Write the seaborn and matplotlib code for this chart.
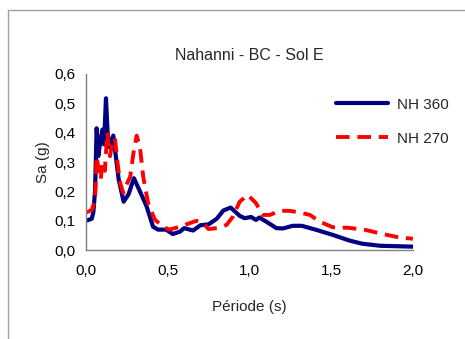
import numpy as np
import pandas as pd
import matplotlib
matplotlib.use("Agg")
import matplotlib.pyplot as plt
import seaborn as sns
from matplotlib.ticker import MultipleLocator, FuncFormatter

# data
t_360 = [0.0, 0.035, 0.045, 0.055, 0.065, 0.075, 0.085, 0.10, 0.11, 0.122, 0.132, 0.145,
         0.167, 0.18, 0.20, 0.23, 0.26, 0.293, 0.33, 0.37, 0.41, 0.44, 0.49, 0.53,
         0.575, 0.60, 0.655, 0.70, 0.75, 0.80, 0.84, 0.885, 0.94, 0.97, 1.01, 1.04,
         1.06, 1.10, 1.165, 1.205, 1.265, 1.32, 1.41, 1.51, 1.61, 1.69, 1.80, 2.0]
sa_360 = [0.10, 0.107, 0.13, 0.20, 0.415, 0.32, 0.36, 0.41, 0.36, 0.517, 0.40, 0.35,
          0.39, 0.33, 0.24, 0.165, 0.19, 0.245, 0.20, 0.15, 0.08, 0.07, 0.07, 0.055,
          0.063, 0.075, 0.067, 0.085, 0.088, 0.107, 0.135, 0.145, 0.117, 0.109, 0.113, 0.103,
          0.111, 0.098, 0.075, 0.074, 0.083, 0.083, 0.069, 0.052, 0.033, 0.022, 0.015, 0.012]

t_270 = [0.0, 0.035, 0.055, 0.065, 0.08, 0.09, 0.10, 0.115, 0.13, 0.147, 0.163, 0.177,
         0.19, 0.208, 0.228, 0.245, 0.27, 0.29, 0.31, 0.33, 0.35, 0.38, 0.42, 0.47,
         0.51, 0.575, 0.615, 0.675, 0.715, 0.75, 0.80, 0.86, 0.90, 0.94, 0.99, 1.04,
         1.08, 1.125, 1.185, 1.245, 1.31, 1.37, 1.43, 1.51, 1.61, 1.71, 1.815, 1.92, 2.0]
sa_270 = [0.128, 0.137, 0.17, 0.32, 0.26, 0.24, 0.30, 0.27, 0.40, 0.32, 0.375, 0.38,
          0.31, 0.23, 0.195, 0.22, 0.25, 0.33, 0.39, 0.35, 0.25, 0.16, 0.105, 0.08,
          0.07, 0.08, 0.088, 0.10, 0.092, 0.072, 0.075, 0.086, 0.115, 0.165, 0.188, 0.16,
          0.12, 0.12, 0.134, 0.134, 0.128, 0.12, 0.097, 0.078, 0.076, 0.069, 0.055, 0.043, 0.039]

df_360 = pd.DataFrame({"Période (s)": t_360, "Sa (g)": sa_360})
df_270 = pd.DataFrame({"Période (s)": t_270, "Sa (g)": sa_270})

sns.set_style("white")
plt.rcParams["font.family"] = ["Liberation Sans", "DejaVu Sans"]

fig = plt.figure(figsize=(4.65, 3.39), dpi=100)
ax = fig.add_axes([0.185, 0.262, 0.703, 0.52])

sns.lineplot(data=df_360, x="Période (s)", y="Sa (g)", ax=ax, color="#000080",
             linewidth=3, label="NH 360")
sns.lineplot(data=df_270, x="Période (s)", y="Sa (g)", ax=ax, color="#FF0000",
             linewidth=2.8, linestyle=(0, (3.5, 2)), label="NH 270")

ax.set_xlim(0, 2.0)
ax.set_ylim(0, 0.6)
ax.xaxis.set_major_locator(MultipleLocator(0.5))
ax.xaxis.set_minor_locator(MultipleLocator(0.1))
ax.yaxis.set_major_locator(MultipleLocator(0.1))
comma = FuncFormatter(lambda v, p: f"{v:.1f}".replace(".", ","))
ax.xaxis.set_major_formatter(comma)
ax.yaxis.set_major_formatter(comma)

for s in ["top", "right"]:
    ax.spines[s].set_visible(False)
for s in ["left", "bottom"]:
    ax.spines[s].set_color("#808080")
    ax.spines[s].set_linewidth(1)
ax.tick_params(axis="both", which="both", direction="out", color="#808080",
               length=4, width=1, labelsize=11, labelcolor="#000000")
ax.tick_params(axis="x", pad=6)

ax.set_xlabel("Période (s)", fontsize=11, labelpad=16)
ax.set_ylabel("Sa (g)", fontsize=11, labelpad=3)
ax.set_title("Nahanni - BC - Sol E", fontsize=11.5, pad=10)

ax.legend(loc="upper left", bbox_to_anchor=(0.745, 0.9), frameon=False,
          handlelength=3.4, handletextpad=0.6, labelspacing=1.3, fontsize=11,
          borderaxespad=0)

# outer chart border (top and left visible)
fig.add_artist(plt.Line2D([0.017, 1.0], [0.97, 0.97], color="#a0a0a0", linewidth=1))
fig.add_artist(plt.Line2D([0.017, 0.017], [0.0, 0.97], color="#a0a0a0", linewidth=1))

fig.savefig("out.png", dpi=100)
